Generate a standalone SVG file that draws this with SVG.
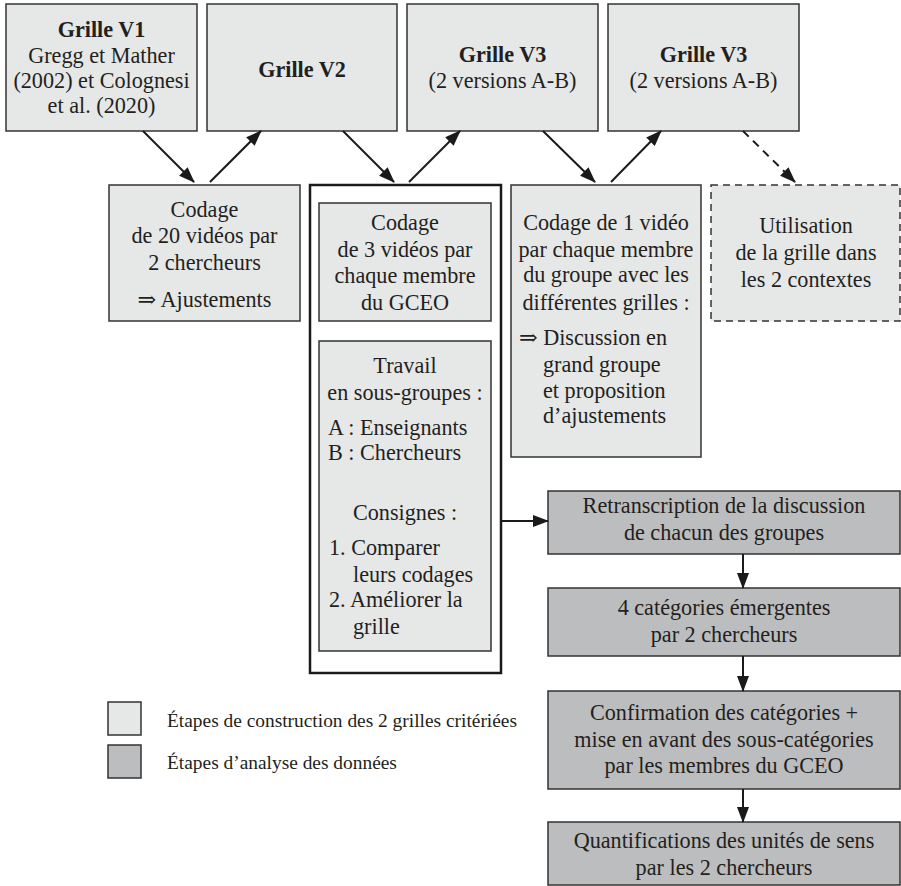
<svg xmlns="http://www.w3.org/2000/svg" width="901" height="886" viewBox="0 0 901 886" font-family="'Liberation Serif', 'Times New Roman', 'DejaVu Serif', serif">
<defs>
<style>
text{font-family:'Liberation Serif','Times New Roman','DejaVu Serif',serif;font-size:22.2px;fill:#231f20}
.c{text-anchor:middle}
.b{font-weight:bold}
.lg{font-size:19.4px}
.light{fill:#e6e7e7;stroke:#333;stroke-width:1.5}
.dark{fill:#bcbdbe;stroke:#333;stroke-width:1.5}
.dash{fill:#e6e7e7;stroke:#333;stroke-width:1.5;stroke-dasharray:7 5}
.frame{fill:#fff;stroke:#1a1a1a;stroke-width:2.5}
.ln{stroke:#1a1a1a;stroke-width:2;fill:none;marker-end:url(#ah)}
.ld{stroke:#1a1a1a;stroke-width:2;fill:none;stroke-dasharray:8 6;marker-end:url(#ah)}
</style>
<marker id="ah" markerUnits="userSpaceOnUse" markerWidth="16" markerHeight="12" refX="15" refY="6" orient="auto">
<path d="M0,0 L16,6 L0,12 z" fill="#1a1a1a"/>
</marker>
</defs>
<rect width="901" height="886" fill="#fff"/>

<g id="grille-v1">
<rect class="light" x="6" y="4" width="191" height="127"/>
<text class="c b" x="101.5" y="37">Grille V1</text>
<text class="c" x="101.5" y="63">Gregg et Mather</text>
<text class="c" x="101.5" y="88">(2002) et Colognesi</text>
<text class="c" x="101.5" y="113">et al. (2020)</text>
</g>
<g id="grille-v2">
<rect class="light" x="207" y="4" width="190" height="127"/>
<text class="c b" x="302" y="77">Grille V2</text>
</g>
<g id="grille-v3a">
<rect class="light" x="407" y="4" width="191" height="127"/>
<text class="c b" x="502.5" y="62">Grille V3</text>
<text class="c" x="502.5" y="88">(2 versions A-B)</text>
</g>
<g id="grille-v3b">
<rect class="light" x="608" y="4" width="191" height="127"/>
<text class="c b" x="703.5" y="62">Grille V3</text>
<text class="c" x="703.5" y="88">(2 versions A-B)</text>
</g>

<g id="codage-20">
<rect class="light" x="109" y="185" width="191" height="136"/>
<text class="c" x="204.5" y="217">Codage</text>
<text class="c" x="204.5" y="243">de 20 vidéos par</text>
<text class="c" x="204.5" y="270">2 chercheurs</text>
<text class="c" x="204.5" y="307">⇒ Ajustements</text>
</g>

<g id="groupe-v2">
<rect class="frame" x="310" y="185" width="191" height="488"/>
<rect class="light" x="319" y="203" width="172" height="118"/>
<text class="c" x="405" y="230">Codage</text>
<text class="c" x="405" y="257">de 3 vidéos par</text>
<text class="c" x="405" y="283">chaque membre</text>
<text class="c" x="405" y="310">du GCEO</text>
<rect class="light" x="319" y="341" width="172" height="310"/>
<text class="c" x="405" y="373">Travail</text>
<text class="c" x="405" y="400">en sous-groupes :</text>
<text x="328" y="435">A : Enseignants</text>
<text x="328" y="460">B : Chercheurs</text>
<text class="c" x="405" y="520">Consignes :</text>
<text x="329" y="555">1. Comparer</text>
<text x="353" y="582">leurs codages</text>
<text x="329" y="607">2. Améliorer la</text>
<text x="353" y="634">grille</text>
</g>

<g id="codage-1">
<rect class="light" x="511" y="185" width="190" height="272"/>
<text class="c" x="606" y="230">Codage de 1 vidéo</text>
<text class="c" x="606" y="257">par chaque membre</text>
<text class="c" x="606" y="282">du groupe avec les</text>
<text class="c" x="606" y="310">différentes grilles :</text>
<text x="519" y="345">⇒ Discussion en</text>
<text x="543" y="372">grand groupe</text>
<text x="543" y="398">et proposition</text>
<text x="543" y="423">d’ajustements</text>
</g>

<g id="utilisation">
<rect class="dash" x="711" y="185" width="189" height="136"/>
<text class="c" x="806" y="233">Utilisation</text>
<text class="c" x="806" y="260">de la grille dans</text>
<text class="c" x="806" y="287">les 2 contextes</text>
</g>

<g id="retranscription">
<rect class="dark" x="548" y="491" width="352" height="63"/>
<text class="c" x="724" y="513">Retranscription de la discussion</text>
<text class="c" x="724" y="540">de chacun des groupes</text>
</g>
<g id="categories">
<rect class="dark" x="548" y="588" width="352" height="68"/>
<text class="c" x="724" y="615">4 catégories émergentes</text>
<text class="c" x="724" y="642">par 2 chercheurs</text>
</g>
<g id="confirmation">
<rect class="dark" x="548" y="691" width="352" height="98"/>
<text class="c" x="724" y="720">Confirmation des catégories +</text>
<text class="c" x="724" y="747">mise en avant des sous-catégories</text>
<text class="c" x="724" y="773">par les membres du GCEO</text>
</g>
<g id="quantification">
<rect class="dark" x="548" y="822" width="352" height="63"/>
<text class="c" x="724" y="848">Quantifications des unités de sens</text>
<text class="c" x="724" y="875">par les 2 chercheurs</text>
</g>

<g id="legend">
<rect class="light" x="108" y="702" width="33" height="33"/>
<text class="lg" x="167" y="727">Étapes de construction des 2 grilles critériées</text>
<rect class="dark" x="108" y="745" width="33" height="33"/>
<text class="lg" x="167" y="769">Étapes d’analyse des données</text>
</g>

<g id="connectors">
<line class="ln" x1="143" y1="131" x2="194" y2="182"/>
<line class="ln" x1="210" y1="182" x2="261" y2="131"/>
<line class="ln" x1="343" y1="131" x2="394" y2="182"/>
<line class="ln" x1="409" y1="182" x2="460" y2="131"/>
<line class="ln" x1="543" y1="131" x2="595" y2="182"/>
<line class="ln" x1="611" y1="182" x2="661" y2="131"/>
<line class="ld" x1="743" y1="131" x2="795" y2="182"/>
<line class="ln" x1="501" y1="521" x2="548" y2="521"/>
<line class="ln" x1="743" y1="554" x2="743" y2="588"/>
<line class="ln" x1="743" y1="656" x2="743" y2="691"/>
<line class="ln" x1="743" y1="789" x2="743" y2="822"/>
</g>
</svg>
